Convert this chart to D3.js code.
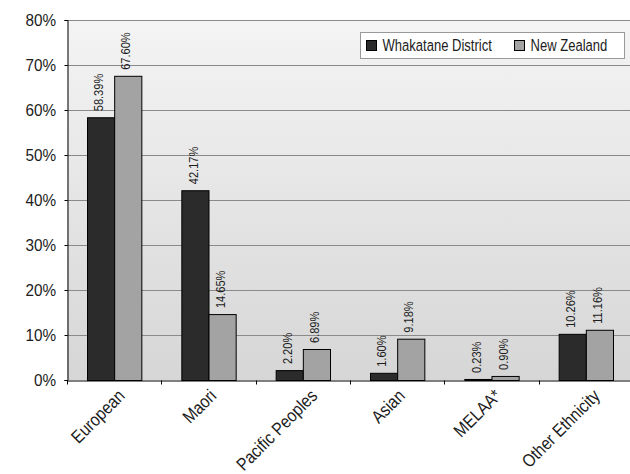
<!DOCTYPE html>
<html>
<head>
<meta charset="utf-8">
<script src="https://cdn.jsdelivr.net/npm/d3@7"></script>
<style>
  html, body { margin: 0; padding: 0; background: #ffffff; }
  svg { display: block; font-family: "Liberation Sans", Arial, sans-serif; }
</style>
</head>
<body>
<svg id="chart" width="630" height="474"></svg>
<script>
// Ethnic composition: Whakatane District vs New Zealand (percent of population)
const categories = ["European", "Maori", "Pacific Peoples", "Asian", "MELAA*", "Other Ethnicity"];
const seriesNames = ["Whakatane District", "New Zealand"];
const whakatane = [58.39, 42.17, 2.20, 1.60, 0.23, 10.26];
const newZealand = [67.60, 14.65, 6.89, 9.18, 0.90, 11.16];
const yTicks = [0, 10, 20, 30, 40, 50, 60, 70, 80];

const colors = ["#2b2b2b", "#a3a3a3"];
const NARROW = 0.82; // horizontal squeeze for a narrow typeface look
const textColor = "#1c1c1c";

const svg = d3.select("#chart");
const margin = { left: 67, top: 20, right: -3, bottom: 94 };
const W = 630, H = 474;
const plotW = W - margin.left - margin.right;
const plotH = H - margin.top - margin.bottom;

const x = d3.scaleBand().domain(categories).range([0, plotW]).paddingInner(0).paddingOuter(0);
const inner = d3.scaleBand().domain(seriesNames).range([20, x.bandwidth() - 20]);
const y = d3.scaleLinear().domain([0, 80]).range([plotH, 0]);

// background gradient
const defs = svg.append("defs");
const grad = defs.append("linearGradient").attr("id", "bg").attr("x1", 0).attr("y1", 0).attr("x2", 0).attr("y2", 1);
grad.append("stop").attr("offset", "0%").attr("stop-color", "#f4f4f4");
grad.append("stop").attr("offset", "100%").attr("stop-color", "#d6d6d6");

const g = svg.append("g").attr("transform", `translate(${margin.left},${margin.top})`);
g.append("rect").attr("width", plotW).attr("height", plotH).attr("fill", "url(#bg)");

// gridlines
g.selectAll(".grid").data(yTicks.filter(t => t > 0)).join("line")
  .attr("x1", 0).attr("x2", plotW)
  .attr("y1", d => y(d) + 0.5).attr("y2", d => y(d) + 0.5)
  .attr("stroke", "#8a8a8a").attr("stroke-width", 1);

// bars
const data = categories.map((c, i) => ({ c, vals: [whakatane[i], newZealand[i]] }));
const groups = g.selectAll(".grp").data(data).join("g")
  .attr("transform", d => `translate(${x(d.c)},0)`);
groups.selectAll("rect").data(d => d.vals.map((v, j) => ({ v, s: seriesNames[j], j }))).join("rect")
  .attr("x", d => inner(d.s) + 0.5)
  .attr("y", d => y(d.v) + 0.5)
  .attr("width", inner.bandwidth())
  .attr("height", d => Math.max(0, plotH - y(d.v)))
  .attr("fill", d => colors[d.j])
  .attr("stroke", "#000").attr("stroke-width", 1);

// value labels, rotated to read upward
groups.selectAll("text.val").data(d => d.vals.map((v, j) => ({ v, s: seriesNames[j] }))).join("text")
  .attr("class", "val")
  .attr("transform", d => `translate(${inner(d.s) + inner.bandwidth() / 2 - 2},${y(d.v) - 6}) rotate(-90) scale(${NARROW},1)`)
  .attr("dy", "0.35em")
  .attr("font-size", 13.5)
  .attr("fill", textColor)
  .text(d => d.v.toFixed(2) + "%");

// y axis
const yAxis = d3.axisLeft(y).tickValues(yTicks).tickSize(3).tickFormat("");
const ya = g.append("g").attr("transform", "translate(0.5,0)").call(yAxis);
ya.select(".domain").attr("stroke", "#000");
ya.selectAll(".tick line").attr("stroke", "#000");
g.selectAll(".ylab").data(yTicks).join("text")
  .attr("class", "ylab")
  .attr("transform", d => `translate(-11,${y(d)}) scale(0.9,1)`)
  .attr("text-anchor", "end")
  .attr("dy", "0.36em")
  .attr("font-size", 17)
  .attr("fill", textColor)
  .text(d => d + "%");

// x axis
const xAxis = d3.axisBottom(x).tickSize(0).tickFormat("");
const xa = g.append("g").attr("transform", `translate(0,${plotH + 0.5})`).call(xAxis);
xa.select(".domain").attr("stroke", "#000");
const bounds = categories.map(c => x(c)).concat([plotW]);
xa.selectAll(".sep").data(bounds).join("line")
  .attr("x1", d => Math.round(d) + 0.5).attr("x2", d => Math.round(d) + 0.5)
  .attr("y1", 0).attr("y2", 4).attr("stroke", "#000");

// category labels at 45°; longer labels sit slightly further right
const XSCALE = 0.86;
g.selectAll(".xlab").data(categories).join("text")
  .attr("class", "xlab")
  .attr("text-anchor", "end")
  .attr("font-size", 18)
  .attr("fill", textColor)
  .text(c => c)
  .attr("transform", function (c) {
    const len = this.getComputedTextLength() * XSCALE;
    const dx = 5 + 0.1 * len;
    return `translate(${x(c) + x.bandwidth() / 2 + dx},${plotH + 17}) rotate(-45) scale(${XSCALE},1)`;
  });

// legend
const lg = svg.append("g").attr("transform", "translate(360.5,32.5)");
lg.append("rect").attr("width", 264).attr("height", 26).attr("fill", "#ffffff").attr("stroke", "#999");
const items = [{ n: seriesNames[0], x: 6 }, { n: seriesNames[1], x: 154 }];
items.forEach((it, i) => {
  lg.append("rect").attr("x", it.x).attr("y", 8).attr("width", 10).attr("height", 10)
    .attr("fill", colors[i]).attr("stroke", "#000");
  lg.append("text").attr("transform", `translate(${it.x + 16},13) scale(${NARROW - 0.03},1)`)
    .attr("dy", "0.36em")
    .attr("font-size", 16.5).attr("fill", textColor).text(it.n);
});
</script>
</body>
</html>
